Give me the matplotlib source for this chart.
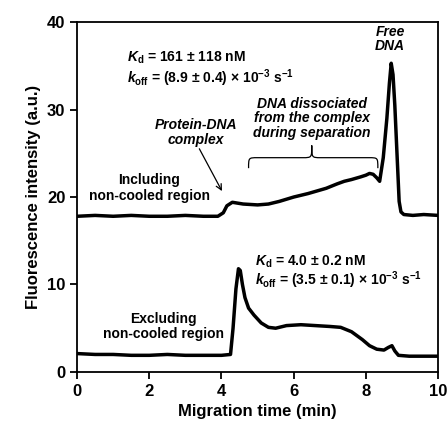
import numpy as np
import matplotlib
matplotlib.use('Agg')
import matplotlib.pyplot as plt
from matplotlib.path import Path
from matplotlib.patches import PathPatch

plt.rcParams['font.family'] = ['Liberation Sans', 'DejaVu Sans']
plt.rcParams['font.weight'] = 'bold'
plt.rcParams['mathtext.fontset'] = 'custom'
plt.rcParams['mathtext.rm'] = 'Liberation Sans:bold'
plt.rcParams['mathtext.it'] = 'Liberation Sans:italic:bold'
plt.rcParams['mathtext.bf'] = 'Liberation Sans:bold'

# upper trace: including non-cooled region
t_inc = [0.0, 0.5, 1.0, 1.5, 2.0, 2.5, 3.0, 3.5, 3.9, 4.05, 4.15, 4.3, 4.6, 5.0, 5.3,
         5.6, 6.0, 6.4, 6.9, 7.2, 7.4, 7.6, 7.85, 8.0, 8.1, 8.2, 8.3, 8.38, 8.48,
         8.58, 8.65, 8.7, 8.75, 8.8, 8.86, 8.92, 8.97, 9.05, 9.3, 9.6, 10.0]
y_inc = [17.8, 17.9, 17.8, 17.9, 17.8, 17.8, 17.9, 17.8, 17.8, 18.2, 19.0, 19.4, 19.2, 19.1, 19.2,
         19.5, 20.0, 20.4, 21.0, 21.5, 21.8, 22.0, 22.3, 22.5, 22.7, 22.6, 22.2, 21.8, 24.5,
         29.0, 33.0, 35.3, 34.0, 30.5, 25.0, 19.5, 18.3, 18.0, 17.9, 18.0, 17.9]

# lower trace: excluding non-cooled region
t_exc = [0.0, 0.5, 1.0, 1.5, 2.0, 2.5, 3.0, 3.5, 4.0, 4.25, 4.32, 4.4, 4.47, 4.52, 4.58,
         4.65, 4.75, 4.9, 5.1, 5.3, 5.5, 5.8, 6.2, 6.6, 7.0, 7.3, 7.6, 7.9, 8.1, 8.3,
         8.5, 8.62, 8.72, 8.8, 8.9, 9.2, 9.6, 10.0]
y_exc = [2.1, 2.0, 2.0, 1.9, 1.9, 2.0, 1.9, 1.9, 1.9, 2.0, 5.0, 9.5, 11.8, 11.6, 10.0,
         8.5, 7.3, 6.5, 5.6, 5.1, 5.0, 5.3, 5.4, 5.3, 5.2, 5.1, 4.6, 3.7, 3.0, 2.6,
         2.5, 2.8, 3.0, 2.4, 1.9, 1.8, 1.8, 1.8]

x_ticks = [0, 2, 4, 6, 8, 10]
y_ticks = [0, 10, 20, 30, 40]

fig = plt.figure(figsize=(4.48, 4.34), dpi=100)
ax = fig.add_axes([0.172, 0.143, 0.806, 0.806])

ax.plot(t_inc, y_inc, color='black', linewidth=2.5)
ax.plot(t_exc, y_exc, color='black', linewidth=2.5)

ax.set_xlim(0, 10)
ax.set_ylim(0, 40)
ax.set_xticks(x_ticks)
ax.set_yticks(y_ticks)
ax.tick_params(direction='out', length=5, width=1.3, labelsize=12)
for s in ax.spines.values():
    s.set_linewidth(1.3)
ax.set_xlabel('Migration time (min)', fontsize=12, fontweight='bold')
ax.set_ylabel('Fluorescence intensity (a.u.)', fontsize=12, fontweight='bold')

fs = 10
ax.text(1.38, 35.9, r'$\mathit{K}_{\rm d}$ = 161 ± 118 nM', fontsize=fs, va='center')
ax.text(1.38, 33.6, r'$\mathit{k}_{\rm off}$ = (8.9 ± 0.4) × 10$^{-3}$ s$^{-1}$',
        fontsize=fs, va='center')
ax.text(8.67, 38.1, 'Free\nDNA', fontsize=fs, style='italic', ha='center', va='center',
        linespacing=1.0)
ax.text(3.3, 27.4, 'Protein-DNA\ncomplex', fontsize=fs, style='italic', ha='center',
        va='center', linespacing=1.05)
ax.annotate('', xy=(4.05, 20.4), xytext=(3.35, 25.8),
            arrowprops=dict(arrowstyle='->', color='black', lw=0.9))
ax.text(6.5, 29.0, 'DNA dissociated\nfrom the complex\nduring separation', fontsize=fs,
        style='italic', ha='center', va='center', linespacing=1.05)
ax.text(2.0, 21.0, 'Including\nnon-cooled region', fontsize=fs, ha='center', va='center',
        linespacing=1.15)
ax.text(4.93, 12.6, r'$\mathit{K}_{\rm d}$ = 4.0 ± 0.2 nM', fontsize=fs, va='center')
ax.text(4.93, 10.5, r'$\mathit{k}_{\rm off}$ = (3.5 ± 0.1) × 10$^{-3}$ s$^{-1}$',
        fontsize=fs, va='center')
ax.text(2.4, 5.2, 'Excluding\nnon-cooled region', fontsize=fs, ha='center', va='center',
        linespacing=1.15)

# curly brace
x0, x1, xm = 4.75, 8.33, 6.5
yb, ym, yt = 23.3, 24.5, 25.9
r = 0.25
verts = [(x0, yb), (x0, ym), (x0, ym), (x0 + r, ym),
         (xm - r, ym), (xm, ym), (xm, ym), (xm, yt),
         (xm, yt), (xm, ym), (xm, ym), (xm + r, ym),
         (x1 - r, ym), (x1, ym), (x1, ym), (x1, yb)]
codes = [Path.MOVETO, Path.CURVE4, Path.CURVE4, Path.CURVE4,
         Path.LINETO, Path.CURVE4, Path.CURVE4, Path.CURVE4,
         Path.MOVETO, Path.CURVE4, Path.CURVE4, Path.CURVE4,
         Path.LINETO, Path.CURVE4, Path.CURVE4, Path.CURVE4]
ax.add_patch(PathPatch(Path(verts, codes), fill=False, lw=0.9, color='black'))

fig.savefig('out.png', dpi=100)
